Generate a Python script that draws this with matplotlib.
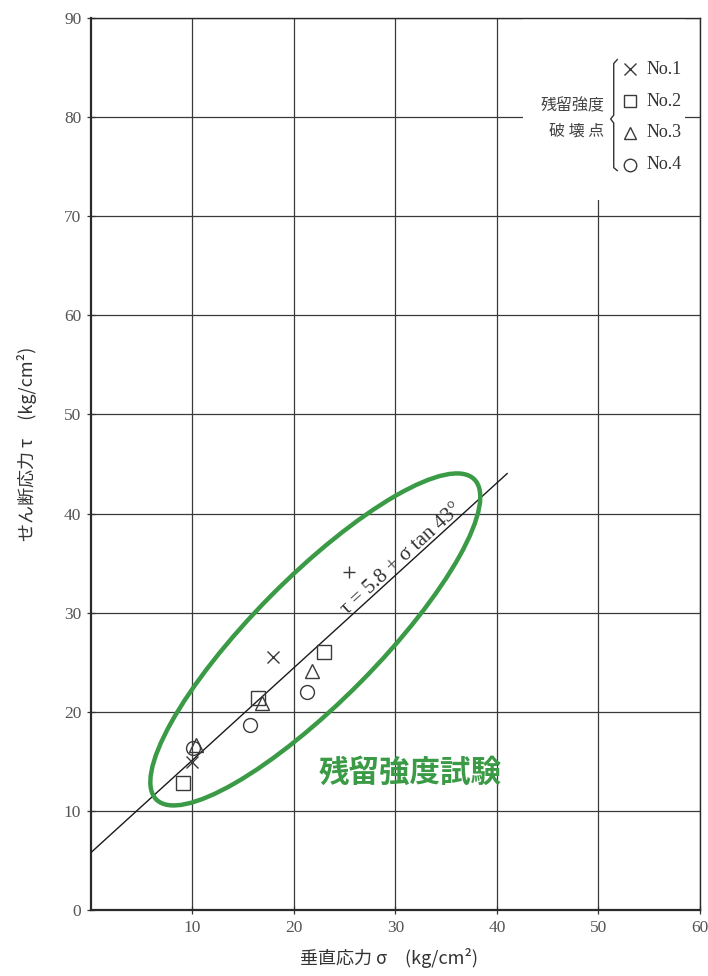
import numpy as np
import matplotlib.pyplot as plt
from matplotlib.patches import Ellipse, Rectangle

# residual strength failure points (sigma, tau) in kg/cm2
no1_sigma = [10.0, 17.9]
no1_tau = [14.9, 25.5]
no2_sigma = [9.1, 16.5, 23.0]
no2_tau = [12.8, 21.4, 26.0]
no3_sigma = [10.3, 16.8, 21.8]
no3_tau = [16.6, 20.9, 24.1]
no4_sigma = [10.1, 15.7, 21.3]
no4_tau = [16.3, 18.7, 22.0]
extra_sigma = [25.4]
extra_tau = [34.1]

# strength line  tau = c + sigma tan(phi)
c = 5.8
phi = 43
sigma_end = 41

legend_labels = ['No.1', 'No.2', 'No.3', 'No.4']
legend_markers = ['x', 's', '^', 'o']

cjk = ['Noto Sans CJK JP', 'DejaVu Sans']
serif = ['Liberation Serif', 'DejaVu Serif']
ink = '#333333'
green = '#3a9a45'

fig = plt.figure(figsize=(7.08, 9.76), dpi=100)
ax = fig.add_axes([0.1285, 0.0676, 0.8602, 0.914])
ax.set_xlim(0, 60)
ax.set_ylim(0, 90)
ax.set_xticks([10, 20, 30, 40, 50, 60])
ax.set_yticks(range(0, 91, 10))
ax.set_axisbelow(True)
ax.grid(True, color='#3a3a3a', linewidth=0.9)
for s in ax.spines.values():
    s.set_color('#2a2a2a')
    s.set_linewidth(1.0)
ax.spines['left'].set_linewidth(1.6)
ax.spines['bottom'].set_linewidth(1.6)
ax.tick_params(direction='inout', length=6, width=0.9, colors=ink, labelsize=12.5, pad=4)
for lab in ax.get_xticklabels() + ax.get_yticklabels():
    lab.set_family(serif)
    lab.set_color('#555555')

ax.set_xlabel('垂直応力 σ　(kg/cm²)', family=cjk, fontsize=13, color='#333333')
ax.set_ylabel('せん断応力 τ　(kg/cm²)', family=cjk, fontsize=13, color='#333333')
ax.xaxis.set_label_coords(0.49, -0.043)
ax.yaxis.set_label_coords(-0.088, 0.522)

# strength line
xs = np.array([0, sigma_end])
ax.plot(xs, c + xs * np.tan(np.radians(phi)), color='#1a1a1a', linewidth=1.0, zorder=3)
ax.text(30.6, 35.4, 'τ = 5.8 + σ tan 43°', family=serif, fontsize=15, color='#333333',
        rotation=phi, transform_rotates_text=True,
        rotation_mode='anchor', ha='center', va='center', zorder=4)

mk = dict(linestyle='none', markerfacecolor='none', markeredgecolor='#3a3a3a',
          markeredgewidth=1.0, zorder=4)
ax.plot(no1_sigma, no1_tau, marker='x', markersize=8, **mk)
ax.plot(no2_sigma, no2_tau, marker='s', markersize=10, **mk)
ax.plot(no3_sigma, no3_tau, marker='^', markersize=10, **mk)
ax.plot(no4_sigma, no4_tau, marker='o', markersize=10, **mk)
ax.plot(extra_sigma, extra_tau, marker='+', markersize=9, **mk)

# highlighted group
ax.add_patch(Ellipse((22.1, 27.3), 45.0, 12.4, angle=46, fill=False,
                     edgecolor=green, linewidth=3.2, zorder=5))
ax.text(31.4, 13.8, '残留強度試験', family=cjk, fontsize=22, fontweight='bold',
        color=green, ha='center', va='center', zorder=5)

# legend block
ax.add_patch(Rectangle((42.6, 71.6), 15.9, 18.3, facecolor='white', edgecolor='none', zorder=2))
ly = [84.8, 81.6, 78.4, 75.2]
for y, m, lab in zip(ly, legend_markers, legend_labels):
    ax.plot([53.1], [y], marker=m, markersize=8 if m == 'x' else 9, **mk)
    ax.text(54.7, y, lab, family=serif, fontsize=13, color='#333333', va='center', zorder=4)
ax.text(50.6, 81.1, '残留強度', family=cjk, fontsize=11.5, color='#444444', ha='right', va='center', zorder=4)
ax.text(50.6, 78.6, '破 壊 点', family=cjk, fontsize=11.5, color='#444444', ha='right', va='center', zorder=4)
bx = 51.5
ax.plot([bx + 0.35, bx, bx, bx - 0.3, bx, bx, bx + 0.35],
        [85.8, 85.4, 80.2, 79.8, 79.4, 74.9, 74.6], color='#333333', linewidth=1.0, zorder=4)

fig.savefig('out.png', dpi=100)
